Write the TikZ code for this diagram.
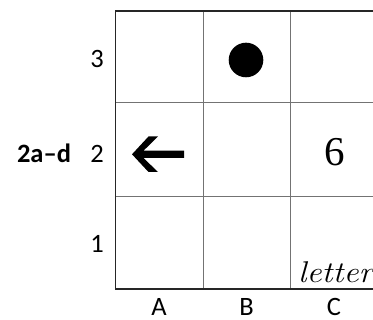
\documentclass[tikz,border=0pt]{standalone}
\usepackage{fontspec}
\setmainfont{Carlito}
\newfontfamily\sixfont{Liberation Serif}
\newfontfamily\cursivefont{Latin Modern Roman}
\begin{document}
\begin{tikzpicture}[x=1pt,y=-1pt,
  lbl/.style={font=\fontsize{26.5}{26.5}\selectfont, inner sep=0pt},
  gridline/.style={draw=black!55, line width=1pt},
  frame/.style={draw=black!85, line width=1.5pt}]
\useasboundingbox (0,0) rectangle (373,320);
\clip (0,0) rectangle (373,320);
% inner grid lines
\draw[gridline] (203,11) -- (203,289);
\draw[gridline] (290,11) -- (290,289);
\draw[gridline] (115.5,103) -- (380,103);
\draw[gridline] (115.5,196.5) -- (380,196.5);
% outer frame
\draw[frame] (380,11) -- (115.5,11) -- (115.5,289) -- (380,289);
% row labels
\node[lbl, anchor=base] (r3) at (97,67.3) {3};
\node[lbl, anchor=base] (r2) at (97,162.5) {2};
\node[lbl, anchor=base] (r1) at (97,252.5) {1};
\node[lbl, anchor=base, font=\fontsize{26.5}{26.5}\selectfont\bfseries] (title) at (44,162.5) {2a–d};
% column labels
\node[lbl, anchor=base] (cA) at (159,315.5) {A};
\node[lbl, anchor=base] (cB) at (246.5,315.5) {B};
\node[lbl, anchor=base] (cC) at (334,315.5) {C};
% dot
\fill[black] (246,60) circle (17.3);
% arrow
\fill[black] (132,154.3) -- (148.5,136.5) -- (158,136.5) -- (143.5,150.7) -- (184,150.7)
  -- (184,158) -- (143.5,158) -- (158,172) -- (148.5,172) -- cycle;
% six
\node[inner sep=0pt, anchor=base, font=\sixfont\fontsize{41}{41}\selectfont] (six) at (335,166) {6};
% letter
\node[inner sep=0pt, anchor=base west, xscale=1.12, font=\cursivefont\itshape\fontsize{30}{30}\selectfont] (word) at (298,283) {letter};
\end{tikzpicture}
\end{document}
